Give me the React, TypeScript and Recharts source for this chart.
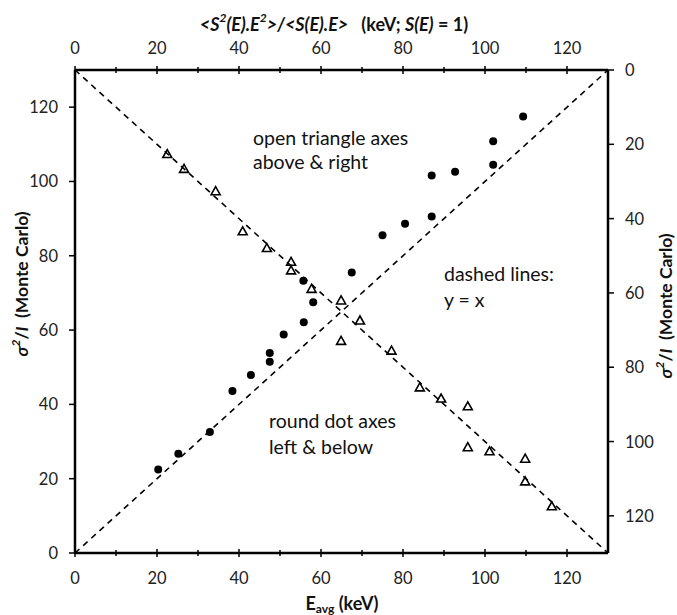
import React from 'react';
import { ScatterChart, Scatter, XAxis, YAxis, ReferenceLine } from 'recharts';

// round dots: read on bottom (x) and left (y) axes
const dotX = [20.3, 25.2, 32.9, 38.4, 42.9, 47.5, 47.5, 50.9, 55.8, 55.7, 58.1, 67.5, 75.0, 80.5, 87.0, 87.0, 92.7, 102.0, 102.0, 109.3];
const dotY = [22.5, 26.7, 32.6, 43.6, 47.9, 51.5, 53.8, 58.8, 62.1, 73.3, 67.5, 75.5, 85.5, 88.6, 90.6, 101.6, 102.6, 104.5, 110.8, 117.5];

// open triangles: read on top (x) and right (y, reversed) axes
const triX = [22.5, 26.6, 34.3, 40.9, 46.8, 52.7, 52.7, 57.7, 64.9, 64.9, 69.5, 77.2, 84.1, 89.3, 95.8, 95.8, 101.1, 109.8, 109.8, 116.3];
const triY = [22.7, 26.7, 32.7, 43.5, 48.0, 51.7, 54.0, 59.0, 62.1, 73.0, 67.5, 75.6, 85.5, 88.5, 90.6, 101.6, 102.7, 104.7, 110.8, 117.5];

const xTicks = [0, 10, 20, 30, 40, 50, 60, 70, 80, 90, 100, 110, 120];
const yTicks = [0, 20, 40, 60, 80, 100, 120];

const dots = dotX.map((x, i) => ({ x, y: dotY[i] }));
const tris = triX.map((x, i) => ({ x, y: triY[i] }));

const FONT = 'Lato, "Open Sans", sans-serif';
const axisLine = { stroke: '#000', strokeWidth: 2.5 };

const XTick = (side: 'top' | 'bottom') => (props: any) => {
  const { x, y, payload } = props;
  const major = payload.value % 20 === 0;
  const h = major ? 4 : 3;
  return (
    <g>
      <line x1={x} x2={x} y1={y - h} y2={y + h} stroke="#000" strokeWidth={1.5} />
      {major && (
        <text
          x={x}
          y={side === 'bottom' ? y + 25 : y - 22}
          textAnchor="middle"
          dominantBaseline="central"
          fontSize={16.5}
          fontFamily={FONT}
          fill="#222"
        >
          {payload.value}
        </text>
      )}
    </g>
  );
};

const YTick = (side: 'left' | 'right') => (props: any) => {
  const { x, y, payload } = props;
  const d = side === 'left' ? -1 : 1;
  return (
    <g>
      <line x1={x} x2={x + d * 6} y1={y} y2={y} stroke="#000" strokeWidth={1.5} />
      <text
        x={x + d * 17}
        y={y}
        textAnchor={side === 'left' ? 'end' : 'start'}
        dominantBaseline="central"
        fontSize={16.5}
        fontFamily={FONT}
        fill="#222"
      >
        {payload.value}
      </text>
    </g>
  );
};

const DotShape = (props: any) => <circle cx={props.cx} cy={props.cy} r={4} fill="#000" />;

const TriShape = (props: any) => {
  const { cx, cy } = props;
  const pts = `${cx},${cy - 4.8} ${cx - 4.5},${cy + 3.2} ${cx + 4.5},${cy + 3.2}`;
  return <polygon points={pts} fill="none" stroke="#000" strokeWidth={1.6} />;
};

const textStyle = { fontFamily: FONT, fill: '#111' };

export default function App() {
  return (
    <div style={{ position: 'absolute', left: 0, top: 0, background: '#fff' }}>
      <ScatterChart width={677} height={615} margin={{ top: 45, right: 29, bottom: 32, left: 30 }}>
        <XAxis
          xAxisId="b"
          type="number"
          dataKey="x"
          orientation="bottom"
          domain={[0, 130]}
          ticks={xTicks}
          tick={XTick('bottom')}
          tickLine={false}
          tickSize={0}
          tickMargin={0}
          axisLine={axisLine}
          height={30}
          allowDataOverflow
        />
        <XAxis
          xAxisId="t"
          type="number"
          dataKey="x"
          orientation="top"
          domain={[0, 130]}
          ticks={xTicks}
          tick={XTick('top')}
          tickLine={false}
          tickSize={0}
          tickMargin={0}
          axisLine={axisLine}
          height={25}
          allowDataOverflow
        />
        <YAxis
          yAxisId="l"
          type="number"
          dataKey="y"
          orientation="left"
          domain={[0, 130]}
          ticks={yTicks}
          tick={YTick('left')}
          tickLine={false}
          tickSize={0}
          tickMargin={0}
          axisLine={axisLine}
          width={45}
          allowDataOverflow
        />
        <YAxis
          yAxisId="r"
          type="number"
          dataKey="y"
          orientation="right"
          reversed
          domain={[0, 130]}
          ticks={yTicks}
          tick={YTick('right')}
          tickLine={false}
          tickSize={0}
          tickMargin={0}
          axisLine={axisLine}
          width={40}
          allowDataOverflow
        />
        <ReferenceLine
          xAxisId="b"
          yAxisId="l"
          segment={[{ x: 0, y: 0 }, { x: 130, y: 130 }]}
          stroke="#000"
          strokeWidth={1.6}
          strokeDasharray="6 5"
        />
        <ReferenceLine
          xAxisId="t"
          yAxisId="r"
          segment={[{ x: 0, y: 0 }, { x: 130, y: 130 }]}
          stroke="#000"
          strokeWidth={1.6}
          strokeDasharray="6 5"
        />
        <Scatter data={dots} xAxisId="b" yAxisId="l" shape={DotShape} isAnimationActive={false} />
        <Scatter data={tris} xAxisId="t" yAxisId="r" shape={TriShape} isAnimationActive={false} />

        {/* annotations */}
        <text x={253} y={137} fontSize={19.5} dominantBaseline="central" style={textStyle}>open triangle axes</text>
        <text x={253} y={161} fontSize={19.5} dominantBaseline="central" style={textStyle}>above &amp; right</text>
        <text x={444} y={273} fontSize={19.5} dominantBaseline="central" style={textStyle}>dashed lines:</text>
        <text x={444} y={299} fontSize={19.5} dominantBaseline="central" style={textStyle}>y = x</text>
        <text x={269} y={420} fontSize={19.5} dominantBaseline="central" style={textStyle}>round dot axes</text>
        <text x={269} y={446} fontSize={19.5} dominantBaseline="central" style={textStyle}>left &amp; below</text>

        {/* axis titles */}
        <text x={334} y={24} textAnchor="middle" dominantBaseline="central" fontSize={18} fontWeight="bold" style={textStyle}>
          <tspan fontStyle="italic">{'<S'}</tspan>
          <tspan fontStyle="italic" fontSize={12} dy={-7}>2</tspan>
          <tspan fontStyle="italic" dy={7}>{'(E).E'}</tspan>
          <tspan fontStyle="italic" fontSize={12} dy={-7}>2</tspan>
          <tspan fontStyle="italic" dy={7}>{'>/<S(E).E>'}</tspan>
          <tspan>{'\u00a0\u00a0 (keV; '}</tspan>
          <tspan fontStyle="italic">S(E)</tspan>
          <tspan>{' = 1)'}</tspan>
        </text>
        <text x={342} y={603} textAnchor="middle" dominantBaseline="central" fontSize={18} fontWeight="bold" style={textStyle}>
          E<tspan fontSize={12} dy={5}>avg</tspan>
          <tspan dy={-5}> (keV)</tspan>
        </text>
        <text
          x={21}
          y={284}
          transform="rotate(-90 21 284)"
          textAnchor="middle"
          dominantBaseline="central"
          fontSize={17.5}
          fontWeight="bold"
          style={textStyle}
        >
          <tspan fontStyle="italic">σ</tspan>
          <tspan fontStyle="italic" fontSize={12} dy={-6}>2</tspan>
          <tspan dy={6}>/</tspan>
          <tspan fontStyle="italic">I</tspan>
          <tspan>{'\u00a0\u00a0(Monte Carlo)'}</tspan>
        </text>
        <text
          x={665}
          y={306}
          transform="rotate(-90 665 306)"
          textAnchor="middle"
          dominantBaseline="central"
          fontSize={17.5}
          fontWeight="bold"
          style={textStyle}
        >
          <tspan fontStyle="italic">σ</tspan>
          <tspan fontStyle="italic" fontSize={12} dy={-6}>2</tspan>
          <tspan dy={6}>/</tspan>
          <tspan fontStyle="italic">I</tspan>
          <tspan>{'\u00a0\u00a0(Monte Carlo)'}</tspan>
        </text>
      </ScatterChart>
    </div>
  );
}
